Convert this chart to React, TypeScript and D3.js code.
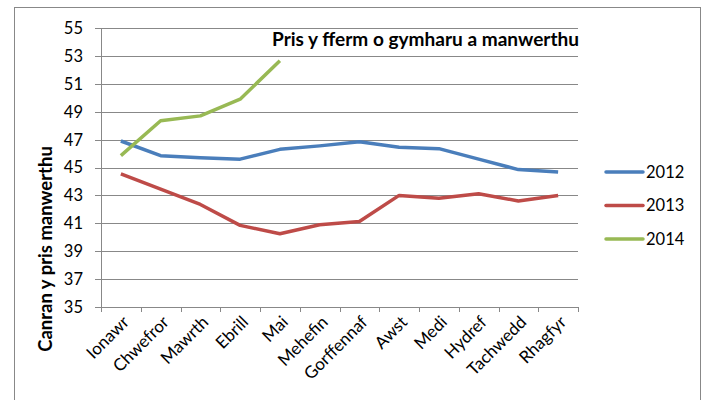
import React from 'react';
import * as d3 from 'd3';

const width = 707;
const height = 400;
const margin = { top: 28, right: 129, bottom: 93, left: 101 };

const months = ['Ionawr', 'Chwefror', 'Mawrth', 'Ebrill', 'Mai', 'Mehefin', 'Gorffennaf', 'Awst', 'Medi', 'Hydref', 'Tachwedd', 'Rhagfyr'];
const years = ['2012', '2013', '2014'];
const values2012 = [46.9, 45.85, 45.7, 45.6, 46.3, 46.55, 46.85, 46.45, 46.35, 45.6, 44.85, 44.68];
const values2013 = [44.55, 43.45, 42.35, 40.85, 40.25, 40.9, 41.13, 43.0, 42.8, 43.12, 42.6, 43.0];
const values2014 = [45.85, 48.35, 48.7, 49.9, 52.65];
const yTicks = [35, 37, 39, 41, 43, 45, 47, 49, 51, 53, 55];
const colors = ['#4a7ebb', '#be4b48', '#98b954'];
const font = 'Lato, Carlito, Calibri, sans-serif';

const x = d3.scaleBand().domain(months).range([margin.left, width - margin.right]);
const y = d3.scaleLinear().domain([35, 55]).range([height - margin.bottom, margin.top]);

const series = [values2012, values2013, values2014];

const line = d3
  .line<number>()
  .x((d, i) => x(months[i])! + x.bandwidth() / 2)
  .y(d => y(d));

export default function App() {
  const bottom = y(35);
  const right = width - margin.right;
  return (
    <svg width={width} height={height} style={{ position: 'absolute', left: 0, top: 0 }}>
      <rect x={0} y={0} width={width} height={height} fill="#fff" />
      <rect x={14.5} y={7.5} width={686} height={420} fill="none" stroke="#888" />
      {yTicks.map(t => (
        <g key={t}>
          <line x1={margin.left - 6} x2={right} y1={Math.round(y(t)) + 0.5} y2={Math.round(y(t)) + 0.5} stroke="#888" />
          <text x={83} y={y(t)} dy="0.36em" textAnchor="end" fontFamily={font} fontSize={16.5} fill="#000">
            {t}
          </text>
        </g>
      ))}
      <line x1={margin.left + 0.5} x2={margin.left + 0.5} y1={y(55)} y2={bottom} stroke="#888" />
      {d3.range(months.length + 1).map(i => {
        const tx = Math.round(margin.left + i * x.bandwidth()) + 0.5;
        return <line key={i} x1={tx} x2={tx} y1={bottom} y2={bottom + 5} stroke="#888" />;
      })}
      {months.map(m => {
        const cx = x(m)! + x.bandwidth() / 2;
        return (
          <text
            key={m}
            transform={`translate(${cx + 5},${bottom + 12}) rotate(-45)`}
            textAnchor="end"
            dy="0.35em"
            fontFamily={font}
            fontSize={17}
            fill="#000"
          >
            {m}
          </text>
        );
      })}
      {series.map((s, i) => (
        <path key={i} d={line(s)!} fill="none" stroke={colors[i]} strokeWidth={3.5} strokeLinejoin="round" />
      ))}
      <text x={272} y={45.5} fontFamily={font} fontSize={18.5} fontWeight="bold" fill="#000" textLength={307} lengthAdjust="spacingAndGlyphs">
        Pris y fferm o gymharu a manwerthu
      </text>
      <text
        transform="translate(52,249) rotate(-90)"
        textAnchor="middle"
        fontFamily={font}
        fontSize={18.5}
        fontWeight="bold"
        fill="#000"
      >
        Canran y pris manwerthu
      </text>
      {years.map((yr, i) => {
        const ly = 172 + i * 33.5;
        return (
          <g key={yr}>
            <line x1={606} x2={643} y1={ly} y2={ly} stroke={colors[i]} strokeWidth={3.5} strokeLinecap="round" />
            <text x={646} y={ly} dy="0.36em" fontFamily={font} fontSize={16.5} fill="#000">
              {yr}
            </text>
          </g>
        );
      })}
    </svg>
  );
}
